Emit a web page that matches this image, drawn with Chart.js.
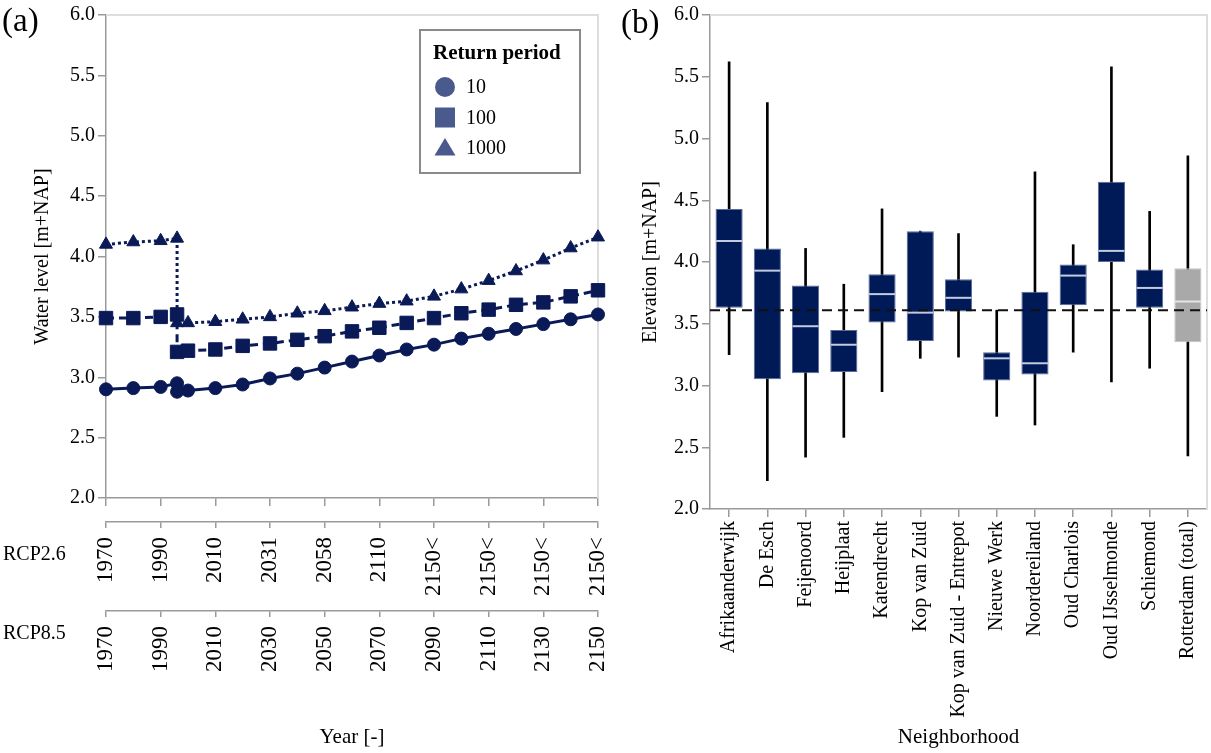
<!DOCTYPE html>
<html>
<head>
<meta charset="utf-8">
<script src="https://cdn.jsdelivr.net/npm/chart.js@4.4.1/dist/chart.umd.min.js"></script>
<style>
  html, body { margin: 0; padding: 0; background: #fff; }
  body { width: 1211px; height: 753px; position: relative; overflow: hidden;
         font-family: "Liberation Serif", "Times New Roman", serif; color: #000; }
  .panel { position: absolute; top: 0; height: 753px; }
  #panelA { left: 0; width: 610px; }
  #panelB { left: 610px; width: 601px; }
  .tag { position: absolute; font-size: 33px; line-height: 1; }
  .rcp { position: absolute; font-size: 20px; line-height: 1; }
</style>
</head>
<body>
<div id="panelA" class="panel"><canvas id="chartA"></canvas></div>
<div id="panelB" class="panel"><canvas id="chartB"></canvas></div>
<div class="tag" style="left:2px;top:4px">(a)</div>
<div class="tag" style="left:621px;top:6px">(b)</div>
<div class="rcp" style="left:3px;top:543px">RCP2.6</div>
<div class="rcp" style="left:3px;top:622px">RCP8.5</div>

<script>
// ---------- (a) water level per return period ----------
const years = [1970, 1980, 1990, 1996, 1996, 2000, 2010, 2020, 2030, 2040, 2050,
               2060, 2070, 2080, 2090, 2100, 2110, 2120, 2130, 2140, 2150];
const level10 = [2.90, 2.91, 2.92, 2.95, 2.88, 2.89, 2.91, 2.94, 2.99, 3.03, 3.08,
                 3.13, 3.18, 3.23, 3.27, 3.32, 3.36, 3.40, 3.44, 3.48, 3.52];
const level100 = [3.49, 3.49, 3.50, 3.52, 3.21, 3.22, 3.23, 3.26, 3.28, 3.31, 3.34,
                  3.38, 3.41, 3.45, 3.49, 3.53, 3.56, 3.60, 3.62, 3.67, 3.72];
const level1000 = [4.10, 4.12, 4.13, 4.15, 3.45, 3.45, 3.46, 3.48, 3.50, 3.53, 3.55,
                   3.58, 3.61, 3.63, 3.67, 3.73, 3.80, 3.88, 3.97, 4.07, 4.16];
const tickYears = [1970, 1990, 2010, 2030, 2050, 2070, 2090, 2110, 2130, 2150];
const rcp26Labels = ["1970", "1990", "2010", "2031", "2058", "2110", "2150<", "2150<", "2150<", "2150<"];
const rcp85Labels = ["1970", "1990", "2010", "2030", "2050", "2070", "2090", "2110", "2130", "2150"];

// ---------- (b) elevation per neighborhood ----------
const neighborhoods = ["Afrikaanderwijk", "De Esch", "Feijenoord", "Heijplaat", "Katendrecht",
  "Kop van Zuid", "Kop van Zuid - Entrepot", "Nieuwe Werk", "Noordereiland", "Oud Charlois",
  "Oud IJsselmonde", "Schiemond", "Rotterdam (total)"];
const elevMin    = [3.25, 2.23, 2.42, 2.58, 2.95, 3.22, 3.23, 2.75, 2.68, 3.27, 3.03, 3.14, 2.43];
const elevQ1     = [3.63, 3.05, 3.10, 3.11, 3.51, 3.36, 3.60, 3.04, 3.09, 3.65, 4.00, 3.63, 3.35];
const elevMedian = [4.17, 3.93, 3.48, 3.33, 3.74, 3.59, 3.71, 3.22, 3.18, 3.89, 4.09, 3.79, 3.68];
const elevQ3     = [4.43, 4.11, 3.81, 3.45, 3.90, 4.25, 3.86, 3.27, 3.76, 3.98, 4.65, 3.94, 3.95];
const elevMax    = [5.62, 5.29, 4.11, 3.82, 4.43, 4.25, 4.23, 3.61, 4.73, 4.14, 5.58, 4.41, 4.86];
const referenceLevel = 3.61;

const serif = "'Liberation Serif', 'Times New Roman', serif";
const navy = "#0a1a57";
const axisGrey = "#9a9a9a";
Chart.defaults.font.family = serif;
Chart.defaults.color = "#000";

function toPoints(values) {
  return years.map((yr, i) => ({ x: yr, y: values[i] }));
}

// rotated labels make chart.js reserve side padding, we don't want it
function noSidePadding(s) {
  s.paddingLeft = 0;
  s.paddingRight = 0;
}

// light frame on top and right of the plot area
const frame = {
  id: "frame",
  beforeDatasetsDraw(chart) {
    const { ctx, chartArea: a } = chart;
    ctx.save();
    ctx.strokeStyle = "#dddddd";
    ctx.lineWidth = 2;
    ctx.beginPath();
    ctx.moveTo(a.left, a.top);
    ctx.lineTo(a.right, a.top);
    ctx.lineTo(a.right, a.bottom);
    ctx.stroke();
    ctx.restore();
  }
};

function drawMarker(ctx, style, x, y, r) {
  ctx.beginPath();
  if (style === "rect") {
    ctx.rect(x - r, y - r, 2 * r, 2 * r);
  } else if (style === "triangle") {
    ctx.moveTo(x, y - r);
    ctx.lineTo(x + r * 1.05, y + r * 0.75);
    ctx.lineTo(x - r * 1.05, y + r * 0.75);
    ctx.closePath();
  } else {
    ctx.arc(x, y, r, 0, Math.PI * 2);
  }
  ctx.fill();
}

// legend box inside the plot, top right
const returnLegend = {
  id: "returnLegend",
  afterDraw(chart) {
    const { ctx, chartArea } = chart;
    const w = 160, h = 143;
    const left = chartArea.right - 18 - w;
    const top = chartArea.top + 15;
    ctx.save();
    ctx.fillStyle = "#fff";
    ctx.fillRect(left, top, w, h);
    ctx.strokeStyle = "#8a8a8a";
    ctx.lineWidth = 2;
    ctx.strokeRect(left, top, w, h);
    ctx.textBaseline = "middle";
    ctx.textAlign = "left";
    ctx.fillStyle = "#000";
    ctx.font = "bold 21px " + serif;
    ctx.fillText("Return period", left + 13, top + 24);
    chart.data.datasets.forEach((ds, i) => {
      const cy = top + 57 + i * 30.5;
      ctx.fillStyle = "#4b5a8c";
      drawMarker(ctx, ds.pointStyle, left + 25, cy, 10);
      ctx.fillStyle = "#000";
      ctx.font = "20px " + serif;
      ctx.fillText(ds.label, left + 46, cy + 1);
    });
    ctx.restore();
  }
};

function yearAxis(labels, weight, height, withTitle) {
  return {
    type: "linear",
    position: "bottom",
    weight: weight,
    min: 1970,
    max: 2150,
    afterBuildTicks: s => { s.ticks = tickYears.map(v => ({ value: v })); },
    afterFit: s => { s.height = height; noSidePadding(s); },
    ticks: {
      autoSkip: false,
      minRotation: 90,
      maxRotation: 90,
      padding: 9,
      font: { size: 23 },
      callback: (v, i) => labels[i]
    },
    grid: { drawOnChartArea: false, tickLength: 6, color: axisGrey, lineWidth: 1.5 },
    border: { color: axisGrey, width: 1.5 },
    title: withTitle
      ? { display: true, text: "Year [-]", font: { size: 21 }, padding: { top: 0, bottom: 3 } }
      : { display: false }
  };
}

new Chart(document.getElementById("chartA"), {
  type: "line",
  data: {
    datasets: [
      {
        label: "10", data: toPoints(level10),
        borderColor: navy, backgroundColor: navy, borderWidth: 3,
        pointStyle: "circle", pointRadius: 6.5, pointBorderWidth: 1, clip: false
      },
      {
        label: "100", data: toPoints(level100),
        borderColor: navy, backgroundColor: navy, borderWidth: 3, borderDash: [8, 5],
        pointStyle: "rect", pointRadius: 9.5, pointBorderWidth: 1, clip: false
      },
      {
        label: "1000", data: toPoints(level1000),
        borderColor: navy, backgroundColor: navy, borderWidth: 3, borderDash: [3, 3],
        pointStyle: "triangle", pointRadius: 7.5, pointBorderWidth: 1, clip: false
      }
    ]
  },
  options: {
    responsive: true,
    maintainAspectRatio: false,
    animation: false,
    layout: { autoPadding: false, padding: { top: 12, right: 12, bottom: 0, left: 0 } },
    plugins: { legend: { display: false }, tooltip: { enabled: false } },
    scales: {
      x: {
        type: "linear",
        position: "bottom",
        min: 1970,
        max: 2150,
        afterBuildTicks: s => { s.ticks = tickYears.map(v => ({ value: v })); },
        afterFit: s => { s.height = 24; noSidePadding(s); },
        ticks: { display: false },
        grid: { drawOnChartArea: false, tickLength: 8, color: axisGrey, lineWidth: 1.5 },
        border: { color: axisGrey, width: 1.5 }
      },
      x26: yearAxis(rcp26Labels, 1, 89, false),
      x85: yearAxis(rcp85Labels, 2, 142, true),
      y: {
        min: 2,
        max: 6,
        afterFit: s => { s.width = 106; },
        ticks: { stepSize: 0.5, padding: 3, font: { size: 20 }, callback: v => v.toFixed(1) },
        grid: { drawOnChartArea: false, tickLength: 8, color: axisGrey, lineWidth: 1.5 },
        border: { color: axisGrey, width: 1.5 },
        title: { display: true, text: "Water level [m+NAP]", font: { size: 20 }, padding: { top: 31, bottom: 0 } }
      }
    }
  },
  plugins: [frame, returnLegend]
});

// dashed reference level across panel (b)
const refLine = {
  id: "refLine",
  afterDatasetsDraw(chart) {
    const { ctx, chartArea: a, scales } = chart;
    const y = scales.y.getPixelForValue(referenceLevel);
    ctx.save();
    ctx.strokeStyle = "#111";
    ctx.lineWidth = 2;
    ctx.setLineDash([10, 6]);
    ctx.beginPath();
    ctx.moveTo(a.left, y);
    ctx.lineTo(a.right, y);
    ctx.stroke();
    ctx.restore();
  }
};

const isTotal = neighborhoods.map(n => n.indexOf("total") >= 0);

new Chart(document.getElementById("chartB"), {
  type: "bar",
  data: {
    labels: neighborhoods,
    datasets: [
      {
        label: "range",
        data: neighborhoods.map((n, i) => [elevMin[i], elevMax[i]]),
        backgroundColor: "#000",
        barThickness: 2,
        grouped: false,
        order: 3
      },
      {
        label: "interquartile",
        data: neighborhoods.map((n, i) => [elevQ1[i], elevQ3[i]]),
        backgroundColor: isTotal.map(t => t ? "#a9a9a9" : "#001a57"),
        borderColor: isTotal.map(t => t ? "#c4c4c4" : "#5a6a9a"),
        borderWidth: 1,
        borderSkipped: false,
        barPercentage: 0.71,
        categoryPercentage: 1,
        grouped: false,
        order: 2
      },
      {
        type: "line",
        label: "median",
        data: elevMedian,
        showLine: false,
        pointStyle: "line",
        pointRadius: 13,
        pointBorderWidth: 2,
        pointBorderColor: isTotal.map(t => t ? "#e4e4e4" : "#c3cbe0"),
        order: 1
      }
    ]
  },
  options: {
    responsive: true,
    maintainAspectRatio: false,
    animation: false,
    layout: { autoPadding: false, padding: { top: 11, right: 4, bottom: 0, left: 0 } },
    plugins: { legend: { display: false }, tooltip: { enabled: false } },
    scales: {
      x: {
        afterFit: s => { s.height = 244; noSidePadding(s); },
        ticks: { autoSkip: false, minRotation: 90, maxRotation: 90, padding: 4, font: { size: 20 } },
        grid: { drawOnChartArea: false, offset: false, tickLength: 8, color: axisGrey, lineWidth: 1.5 },
        border: { color: axisGrey, width: 1.5 },
        title: { display: true, text: "Neighborhood", font: { size: 21 }, padding: { top: 0, bottom: 3 } }
      },
      y: {
        min: 2,
        max: 6,
        afterFit: s => { s.width = 100; },
        ticks: { stepSize: 0.5, padding: 3, font: { size: 20 }, callback: v => v.toFixed(1) },
        grid: { drawOnChartArea: false, tickLength: 8, color: axisGrey, lineWidth: 1.5 },
        border: { color: axisGrey, width: 1.5 },
        title: { display: true, text: "Elevation [m+NAP]", font: { size: 20 }, padding: { top: 29, bottom: 0 } }
      }
    }
  },
  plugins: [frame, refLine]
});
</script>
</body>
</html>
